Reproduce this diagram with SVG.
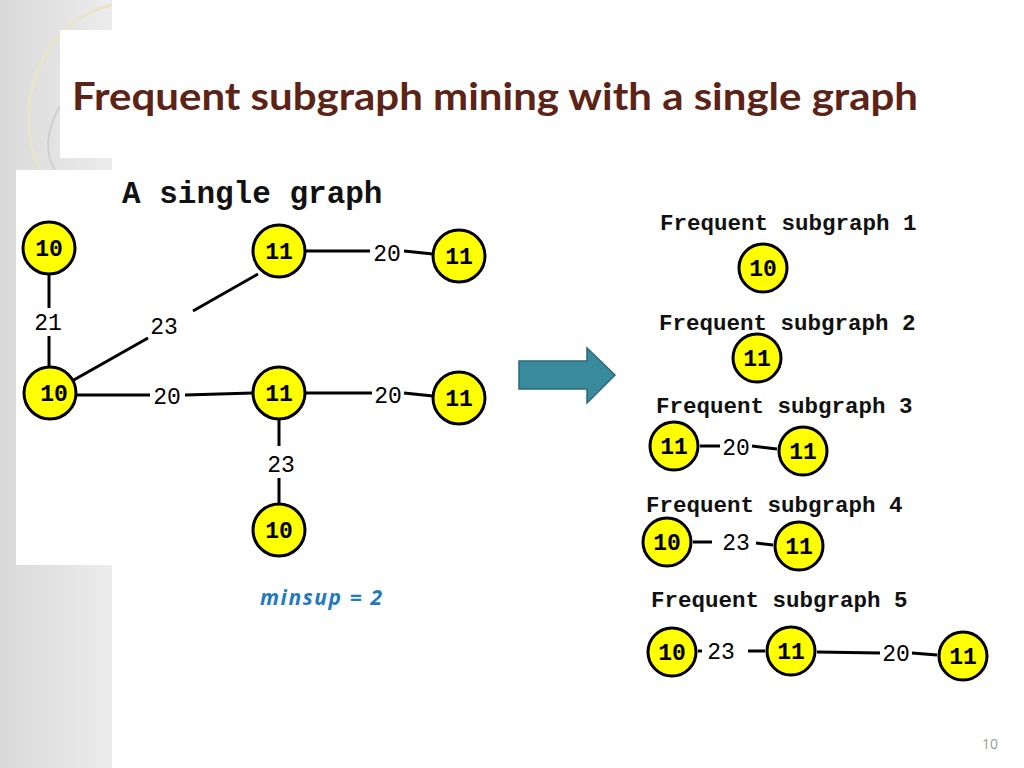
<svg xmlns="http://www.w3.org/2000/svg" width="1024" height="768" viewBox="0 0 1024 768">
<defs>
<linearGradient id="side" x1="0" y1="0" x2="1" y2="0"><stop offset="0" stop-color="#d9d9d9"/><stop offset="1" stop-color="#ececec"/></linearGradient>
<style>
.n{fill:#ffff00;stroke:#000;stroke-width:3}
.nl{font-family:"Liberation Mono",monospace;font-size:23px;font-weight:bold;text-anchor:middle;fill:#000}
.el{font-family:"Liberation Mono",monospace;font-size:23px;text-anchor:middle;fill:#000}
.e{stroke:#000;stroke-width:3;fill:none}
.t{font-family:"Liberation Mono",monospace;font-size:22.5px;font-weight:bold;fill:#111}
</style>
</defs>
<rect width="1024" height="768" fill="#fff"/>
<rect x="0" y="0" width="112" height="768" fill="url(#side)"/>
<path d="M112 5 C40 20 10 110 40 170" fill="none" stroke="#e8e4c8" stroke-width="3"/>
<path d="M112 70 C60 80 35 140 55 170" fill="none" stroke="#cfcfcf" stroke-width="2"/>
<rect x="60" y="30" width="964" height="128" fill="#fff"/>
<text x="72" y="110" font-family="Lato,'Open Sans',sans-serif" font-size="38" font-weight="bold" fill="#5c2317" textLength="846" lengthAdjust="spacingAndGlyphs">Frequent subgraph mining with a single graph</text>
<rect x="16" y="170" width="484" height="395" fill="#fff"/>
<text x="122" y="203" class="t" style="font-size:31px">A single graph</text>
<g id="connectors">
<line class="e" x1="49" y1="274" x2="49" y2="308"/><line class="e" x1="49" y1="336" x2="49" y2="367"/>
<line class="e" x1="72" y1="381" x2="148" y2="338"/><line class="e" x1="193" y1="311" x2="258" y2="274"/>
<line class="e" x1="76" y1="395" x2="150" y2="395"/><line class="e" x1="185" y1="395" x2="253" y2="393"/>
<line class="e" x1="305" y1="251" x2="370" y2="251"/><line class="e" x1="404" y1="251" x2="433" y2="254"/>
<line class="e" x1="305" y1="393" x2="372" y2="393"/><line class="e" x1="404" y1="393" x2="433" y2="396"/>
<line class="e" x1="279" y1="419" x2="279" y2="446"/><line class="e" x1="279" y1="478" x2="279" y2="504"/>
<line class="e" x1="700" y1="446" x2="720" y2="446"/><line class="e" x1="752" y1="446" x2="777" y2="449"/>
<line class="e" x1="693" y1="542" x2="712" y2="542"/><line class="e" x1="756" y1="543" x2="773" y2="545"/>
<line class="e" x1="698" y1="651" x2="702" y2="651"/><line class="e" x1="748" y1="651" x2="765" y2="651"/>
<line class="e" x1="817" y1="652" x2="880" y2="653"/><line class="e" x1="912" y1="653" x2="937" y2="655"/>
</g>
<g id="edge-labels">
<text class="el" x="48" y="330">21</text><text class="el" x="164" y="334">23</text>
<text class="el" x="167" y="404">20</text><text class="el" x="387" y="261">20</text>
<text class="el" x="388" y="403">20</text><text class="el" x="281" y="472">23</text>
<text class="el" x="736" y="455">20</text><text class="el" x="736" y="550">23</text>
<text class="el" x="721" y="659">23</text><text class="el" x="896" y="661">20</text>
</g>
<g id="n1"><circle class="n" cx="49" cy="248" r="26"/><text class="nl" x="49" y="256">10</text></g>
<g id="n2"><circle class="n" cx="50" cy="393" r="26"/><text class="nl" x="54" y="401">10</text></g>
<g id="n3"><circle class="n" cx="279" cy="251" r="26"/><text class="nl" x="279" y="259">11</text></g>
<g id="n4"><circle class="n" cx="459" cy="256" r="26"/><text class="nl" x="459" y="264">11</text></g>
<g id="n5"><circle class="n" cx="279" cy="393" r="26"/><text class="nl" x="279" y="401">11</text></g>
<g id="n6"><circle class="n" cx="459" cy="398" r="26"/><text class="nl" x="459" y="406">11</text></g>
<g id="n7"><circle class="n" cx="279" cy="530" r="26"/><text class="nl" x="279" y="538">10</text></g>
<g id="arrow"><path d="M519 361 H587 V348 L615 375 L587 403 V389 H519 Z" fill="#3a8a9e" stroke="#2a6a7a" stroke-width="1.5"/></g>
<text x="260" y="605" font-family="'Open Sans',sans-serif" font-size="21" font-style="italic" font-weight="bold" fill="#1f7ac0" textLength="122">minsup = 2</text>
<g id="subgraphs">
<text class="t" x="660" y="230">Frequent subgraph 1</text>
<text class="t" x="659" y="330">Frequent subgraph 2</text>
<text class="t" x="656" y="413">Frequent subgraph 3</text>
<text class="t" x="646" y="512">Frequent subgraph 4</text>
<text class="t" x="651" y="607">Frequent subgraph 5</text>
</g>
<g id="s1"><circle class="n" cx="763" cy="268" r="24"/><text class="nl" x="763" y="276">10</text></g>
<g id="s2"><circle class="n" cx="757" cy="358" r="24"/><text class="nl" x="757" y="366">11</text></g>
<g id="s3a"><circle class="n" cx="674" cy="446" r="24"/><text class="nl" x="674" y="454">11</text></g>
<g id="s3b"><circle class="n" cx="803" cy="451" r="24"/><text class="nl" x="803" y="459">11</text></g>
<g id="s4a"><circle class="n" cx="667" cy="542" r="24"/><text class="nl" x="667" y="550">10</text></g>
<g id="s4b"><circle class="n" cx="799" cy="546" r="24"/><text class="nl" x="799" y="554">11</text></g>
<g id="s5a"><circle class="n" cx="672" cy="652" r="24"/><text class="nl" x="672" y="660">10</text></g>
<g id="s5b"><circle class="n" cx="791" cy="651" r="24"/><text class="nl" x="791" y="659">11</text></g>
<g id="s5c"><circle class="n" cx="963" cy="656" r="24"/><text class="nl" x="963" y="664">11</text></g>
<text x="990" y="749" font-family="'Open Sans',sans-serif" font-size="14" fill="#999" text-anchor="middle">10</text>
</svg>
